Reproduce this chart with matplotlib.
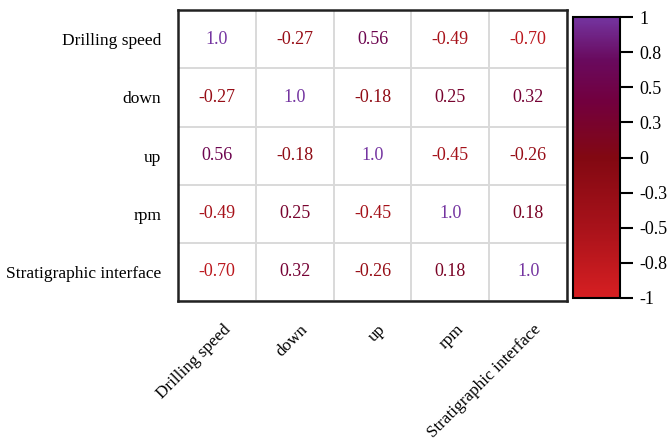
import numpy as np
import matplotlib
matplotlib.use("Agg")
import matplotlib.pyplot as plt
import matplotlib.transforms as mtransforms
from matplotlib.colors import LinearSegmentedColormap, Normalize
from matplotlib.cm import ScalarMappable

plt.rcParams['font.family'] = ['Liberation Serif', 'DejaVu Serif']
plt.rcParams['axes.unicode_minus'] = False

names = ["Drilling speed", "down", "up", "rpm", "Stratigraphic interface"]
corr = np.array([
    [1.0, -0.27, 0.56, -0.49, -0.70],
    [-0.27, 1.0, -0.18, 0.25, 0.32],
    [0.56, -0.18, 1.0, -0.45, -0.26],
    [-0.49, 0.25, -0.45, 1.0, 0.18],
    [-0.70, 0.32, -0.26, 0.18, 1.0],
])
cbar_ticks = [-1, -0.75, -0.5, -0.25, 0, 0.25, 0.5, 0.75, 1]
cbar_labels = ["-1", "-0.8", "-0.5", "-0.3", "0", "0.3", "0.5", "0.8", "1"]

cmap = LinearSegmentedColormap.from_list("redpurple", [
    (0.0, "#d61f22"),
    (0.25, "#a8121a"),
    (0.5, "#820812"),
    (0.7, "#72003e"),
    (0.85, "#690a5e"),
    (1.0, "#7434a0"),
])
norm = Normalize(-1, 1)

fig = plt.figure(figsize=(6.68, 4.42), dpi=100)
ax = fig.add_axes([0.2665, 0.319, 0.5823, 0.658])
n = len(names)
ax.set_xlim(-0.5, n - 0.5)
ax.set_ylim(n - 0.5, -0.5)

for i in range(n):
    for j in range(n):
        v = corr[i, j]
        txt = "1.0" if v == 1 else "%.2f" % v
        ax.text(j, i, txt, ha='center', va='center', fontsize=13,
                color=cmap(norm(v)))

# light cell grid
ax.set_xticks(np.arange(n + 1) - 0.5, minor=True)
ax.set_yticks(np.arange(n + 1) - 0.5, minor=True)
ax.grid(which='minor', color='#d9d9d9', linewidth=1.4)
ax.tick_params(which='both', length=0)
ax.set_xticks(np.arange(n))
ax.set_yticks(np.arange(n))
ax.set_yticklabels(names, fontsize=12.5)
ax.tick_params(axis='y', pad=12)
ax.set_xticklabels(names, fontsize=12.3, rotation=45, ha='right',
                   va='center', rotation_mode='anchor')
ax.tick_params(axis='x', pad=19)
shift = mtransforms.ScaledTranslation(11 / 100, 0, fig.dpi_scale_trans)
for lab in ax.get_xticklabels():
    lab.set_transform(lab.get_transform() + shift)
for s in ax.spines.values():
    s.set_linewidth(1.8)
    s.set_color('#222222')

cax = fig.add_axes([0.8578, 0.3258, 0.0704, 0.6357])
sm = ScalarMappable(norm=norm, cmap=cmap)
cb = fig.colorbar(sm, cax=cax, ticks=cbar_ticks)
cb.set_ticklabels(cbar_labels)
cb.outline.set_linewidth(1.5)
cax.tick_params(length=9, width=1.5, labelsize=13, pad=5)

fig.savefig("out.png", dpi=100)
